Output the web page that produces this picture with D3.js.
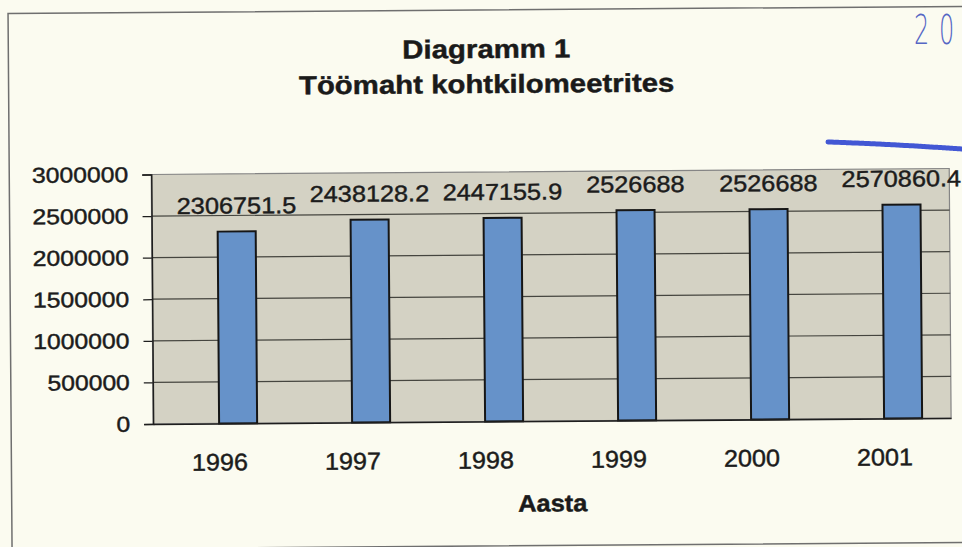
<!DOCTYPE html>
<html>
<head>
<meta charset="utf-8">
<script src="https://cdn.jsdelivr.net/npm/d3@7"></script>
<style>
  html, body { margin: 0; padding: 0; background: #fbfbf0; }
  svg { display: block; font-family: "Liberation Sans", Arial, sans-serif; }
  /* scanned print looks a little heavier than screen text */
  .ink { stroke: #1c1c1c; stroke-width: 0.45px; paint-order: stroke; }
</style>
</head>
<body>
<svg id="chart"></svg>
<script>
// --------------------
// Data
// --------------------
const years = ["1996", "1997", "1998", "1999", "2000", "2001"];
const values = [2306751.5, 2438128.2, 2447155.9, 2526688, 2526688, 2570860.4];
const valueLabels = ["2306751.5", "2438128.2", "2447155.9", "2526688", "2526688", "2570860.4"];
const yTicks = [0, 500000, 1000000, 1500000, 2000000, 2500000, 3000000];
const titleLines = ["Diagramm 1", "Töömaht kohtkilomeetrites"];
const xTitle = "Aasta";
const stampDigits = ["2", "0"];

// --------------------
// Basic setup
// --------------------
const width = 962;
const height = 547;
const plot = { left: 152, right: 950, top: 172, bottom: 421.5 };

const svg = d3.select("#chart")
  .attr("width", width)
  .attr("height", height);

svg.append("rect")
  .attr("width", width)
  .attr("height", height)
  .attr("fill", "#fbfbf0");

// the scanned page is a little tilted
const g = svg.append("g")
  .attr("transform", "rotate(-0.43 481 273)");

// page frame
g.append("rect")
  .attr("x", 10).attr("y", 10)
  .attr("width", 1010).attr("height", 536)
  .attr("fill", "none")
  .attr("stroke", "#6f6f6f")
  .attr("stroke-width", 1.5);

// --------------------
// Scales
// --------------------
const x = d3.scaleBand()
  .domain(years)
  .range([plot.left, plot.right]);

// bars sit a bit right of their labels in the scan
const xBar = d3.scaleBand()
  .domain(years)
  .range([plot.left + 18.5, plot.right + 18.5])
  .paddingInner(0.714)
  .paddingOuter(0.357);

const y = d3.scaleLinear()
  .domain([0, 3000000])
  .range([plot.bottom, plot.top]);

// --------------------
// Plot area + grid
// --------------------
g.append("rect")
  .attr("x", plot.left)
  .attr("y", plot.top)
  .attr("width", plot.right - plot.left)
  .attr("height", plot.bottom - plot.top)
  .attr("fill", "#d4d2c4")
  .attr("stroke", "#858585")
  .attr("stroke-width", 1.2);

g.append("g")
  .selectAll("line")
  .data(yTicks.filter(t => t > 0 && t < 3000000))
  .join("line")
    .attr("x1", plot.left)
    .attr("x2", plot.right)
    .attr("y1", d => y(d))
    .attr("y2", d => y(d))
    .attr("stroke", "#45453f")
    .attr("stroke-width", 1.2);

// --------------------
// Bars
// --------------------
g.append("g")
  .selectAll("rect")
  .data(values)
  .join("rect")
    .attr("x", (d, i) => xBar(years[i]))
    .attr("y", d => y(d))
    .attr("width", xBar.bandwidth())
    .attr("height", d => y(0) - y(d))
    .attr("fill", "#6692c9")
    .attr("stroke", "#161616")
    .attr("stroke-width", 2);

// value labels
const valSx = 1.1;
g.append("g")
  .selectAll("text")
  .data(values)
  .join("text")
    .attr("class", "ink")
    .attr("transform", (d, i) =>
      `translate(${xBar(years[i]) + xBar.bandwidth() / 2},${y(d) - 18}) scale(${valSx},1)`)
    .attr("text-anchor", "middle")
    .attr("font-size", 23)
    .attr("fill", "#1c1c1c")
    .text((d, i) => valueLabels[i]);

// --------------------
// Axes
// --------------------
const ySx = 1.15;
const yAxis = g.append("g")
  .attr("transform", `translate(${plot.left},0)`)
  .call(d3.axisLeft(y).tickValues(yTicks).tickSize(9).tickPadding(14).tickFormat(d3.format("d")));

yAxis.select(".domain").attr("stroke", "#1e1e1e").attr("stroke-width", 1.5);
yAxis.selectAll(".tick line").attr("stroke", "#1e1e1e").attr("stroke-width", 1.2);
yAxis.selectAll(".tick text")
  .attr("class", "ink")
  .attr("x", -23 / ySx)
  .attr("transform", `scale(${ySx},1)`)
  .attr("font-size", 21.5)
  .attr("fill", "#1c1c1c");

const xSx = 1.05;
const xAxis = g.append("g")
  .attr("transform", `translate(0,${plot.bottom})`)
  .call(d3.axisBottom(x).tickSize(0));

xAxis.select(".domain").attr("stroke", "#1e1e1e").attr("stroke-width", 1.6);
xAxis.selectAll(".tick text")
  .attr("class", "ink")
  .attr("y", 47)
  .attr("dy", 0)
  .attr("transform", `scale(${xSx},1)`)
  .attr("x", 0)
  .attr("font-size", 24)
  .attr("fill", "#1c1c1c");
// keep the labels centred after the horizontal stretch
xAxis.selectAll(".tick").each(function(d) {
  d3.select(this).attr("transform", `translate(${x(d) + x.bandwidth() / 2},0)`);
});

// --------------------
// Titles
// --------------------
const titleSx = 1.13;
g.append("g")
  .selectAll("text")
  .data(titleLines)
  .join("text")
    .attr("class", "ink")
    .attr("transform", (d, i) => `translate(488,${58 + i * 35}) scale(${titleSx},1)`)
    .attr("text-anchor", "middle")
    .attr("font-size", 26)
    .attr("font-weight", "bold")
    .attr("fill", "#1a1a1a")
    .text(d => d);

g.append("text")
  .attr("class", "ink")
  .attr("transform", `translate(${(plot.left + plot.right) / 2},512) scale(1.06,1)`)
  .attr("text-anchor", "middle")
  .attr("font-size", 24)
  .attr("font-weight", "bold")
  .attr("fill", "#1a1a1a")
  .text(xTitle);

// --------------------
// Pen marks on the page
// --------------------
svg.append("g")
  .selectAll("text")
  .data(stampDigits)
  .join("text")
    .attr("transform", (d, i) => `translate(${914 + i * 25},44) scale(0.6,1)`)
    .attr("font-size", 40)
    .attr("fill", "#5566c4")
    .attr("font-family", "DejaVu Sans")
    .attr("font-weight", 200)
    .text(d => d);

svg.append("path")
  .attr("d", "M828,142 Q890,144 962,149")
  .attr("fill", "none")
  .attr("stroke", "#4257d4")
  .attr("stroke-width", 5)
  .attr("stroke-linecap", "round")
  .attr("stroke-dasharray", "2.5,1.2");
</script>
</body>
</html>
